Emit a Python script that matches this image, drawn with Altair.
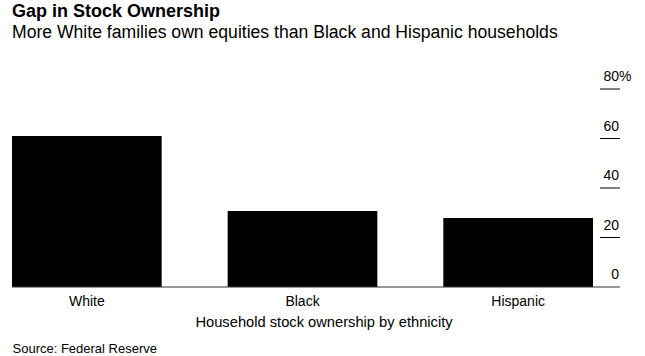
import altair as alt
import pandas as pd

categories = ["White", "Black", "Hispanic"]
ownership = [61.0, 30.7, 27.9]

tick_values = [80, 60, 40, 20, 0]
tick_labels = ["80", "60", "40", "20", "0"]
tick_suffix = ["%", "", "", "", ""]

FONT = "Liberation Sans"

bars_df = pd.DataFrame({"group": categories, "value": ownership})
ticks_df = pd.DataFrame({"value": tick_values, "label": tick_labels, "suffix": tick_suffix})

yscale = alt.Scale(domain=[0, 80], nice=False, zero=True)

bars = alt.Chart(bars_df).mark_bar(color="#000000").encode(
    x=alt.X("group:N", sort=categories,
            scale=alt.Scale(paddingInner=0.306, paddingOuter=0),
            axis=alt.Axis(title="Household stock ownership by ethnicity",
                          labelAngle=0, labelFontSize=14, labelFont=FONT,
                          labelColor="#000000", labelPadding=7,
                          ticks=False, domain=False,
                          titleFont=FONT, titleFontSize=14.7, titleFontWeight="normal",
                          titleColor="#000000", titlePadding=6, titleX=311.5)),
    y=alt.Y("value:Q", scale=yscale, axis=None),
)

baseline = alt.Chart(ticks_df[ticks_df["value"] == 0]).mark_rule(color="#333333", strokeWidth=1).encode(
    x=alt.value(0), x2=alt.value(608), y=alt.Y("value:Q", scale=yscale)
)

tickmarks = alt.Chart(ticks_df[ticks_df["value"] > 0]).mark_rule(color="#000000", strokeWidth=1).encode(
    x=alt.value(588), x2=alt.value(608), y=alt.Y("value:Q", scale=yscale)
)

labels = alt.Chart(ticks_df).mark_text(
    align="right", baseline="alphabetic", dy=-8, font=FONT, fontSize=14, color="#000000"
).encode(x=alt.value(607), y=alt.Y("value:Q", scale=yscale), text="label:N")

suffix = alt.Chart(ticks_df).mark_text(
    align="left", baseline="alphabetic", dy=-8, font=FONT, fontSize=14, color="#000000"
).encode(x=alt.value(607), y=alt.Y("value:Q", scale=yscale), text="suffix:N")

source = alt.Chart(bars_df.head(1)).mark_text(
    align="left", baseline="alphabetic", font=FONT, fontSize=13, color="#000000", text="Source: Federal Reserve"
).encode(x=alt.value(0.5), y=alt.value(264))

chart = alt.layer(bars, baseline, tickmarks, labels, suffix, source).properties(
    width=581, height=198,
    title=alt.TitleParams(
        text="Gap in Stock Ownership",
        subtitle="More White families own equities than Black and Hispanic households",
        anchor="start", font=FONT, fontSize=18, fontWeight="bold", color="#000000",
        subtitleFont=FONT, subtitleFontSize=17.6, subtitleColor="#000000", subtitlePadding=3,
        offset=28, frame="group",
    ),
    autosize="none",
    padding={"left": 12, "top": 89, "right": 52, "bottom": 69},
    background="#ffffff",
).configure_view(strokeWidth=0, stroke=None)

chart.save("out.html", embed_options={"renderer": "svg", "actions": False})
